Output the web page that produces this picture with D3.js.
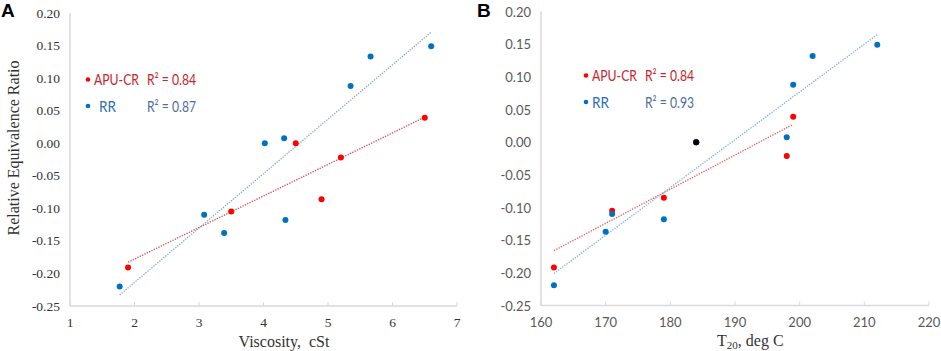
<!DOCTYPE html>
<html lang="en">
<head>
  <meta charset="utf-8">
  <title>Relative equivalence ratio vs viscosity and T20</title>
  <script src="https://cdn.jsdelivr.net/npm/d3@7"></script>
  <style>
    body { margin: 0; background: #fff; }
    svg text { white-space: pre; }
    .serif { font-family: "Liberation Serif", "DejaVu Serif", serif; }
    .sans { font-family: Lato, "Liberation Sans", sans-serif; }
  </style>
</head>
<body>
<script>
  // Panel A: viscosity (cSt) vs relative equivalence ratio
  const apuViscosity = [1.9, 3.5, 4.9, 4.5, 5.2, 6.5];
  const apuRatioA = [-0.191, -0.105, -0.086, 0.0, -0.022, 0.039];
  const rrViscosity = [1.77, 3.08, 3.39, 4.34, 4.02, 4.32, 5.35, 5.66, 6.6];
  const rrRatioA = [-0.220, -0.110, -0.138, -0.118, 0.0, 0.0075, 0.088, 0.133, 0.149];

  // Panel B: T20 (deg C) vs relative equivalence ratio
  const apuT20 = [162, 171, 179, 198, 199, 184];
  const apuRatioB = [-0.192, -0.105, -0.085, -0.021, 0.039, 0.0];
  const rrT20 = [162, 170, 171, 179, 198, 199, 202, 212, 184];
  const rrRatioB = [-0.219, -0.137, -0.110, -0.118, 0.0076, 0.088, 0.132, 0.149, 0.0];
  // the shared point is shown in black
  const sharedT20 = [184];
  const sharedRatioB = [0.0];

  const yTicks = [0.20, 0.15, 0.10, 0.05, 0.00, -0.05, -0.10, -0.15, -0.20, -0.25];
  const viscTicks = [1, 2, 3, 4, 5, 6, 7];
  const t20Ticks = [160, 170, 180, 190, 200, 210, 220];

  const r2A = ["0.84", "0.87"];
  const r2B = ["0.84", "0.93"];

  const red = "#ff0000", blue = "#0070c0";
  const axisColor = "#d9d9d9";

  const svg = d3.select("body").append("svg")
    .attr("width", 941)
    .attr("height", 351);

  // simple least squares fit, like an Excel linear trendline
  function fit(xs, ys) {
    const mx = d3.mean(xs), my = d3.mean(ys);
    const sxy = d3.sum(xs, (x, i) => (x - mx) * (ys[i] - my));
    const sxx = d3.sum(xs, x => (x - mx) * (x - mx));
    const b = sxy / sxx;
    return x => my + b * (x - mx);
  }

  function panel(p) {
    const g = svg.append("g");
    const x = d3.scaleLinear().domain(p.xDomain).range(p.xRange);
    const y = d3.scaleLinear().domain([-0.25, 0.20]).range(p.yRange);

    // axis lines
    g.append("line")
      .attr("x1", x(p.xDomain[0])).attr("x2", x(p.xDomain[0]))
      .attr("y1", y(0.20)).attr("y2", y(-0.25))
      .attr("stroke", axisColor).attr("stroke-width", 1.5);
    g.append("line")
      .attr("x1", x(p.xDomain[0])).attr("x2", x(p.xDomain[1]))
      .attr("y1", y(-0.25)).attr("y2", y(-0.25))
      .attr("stroke", axisColor).attr("stroke-width", 1.5);

    // x ticks and labels
    g.selectAll(".xt").data(p.xTicks).enter().append("line")
      .attr("x1", d => x(d)).attr("x2", d => x(d))
      .attr("y1", y(-0.25)).attr("y2", y(-0.25) - 4)
      .attr("stroke", axisColor);
    g.selectAll(".xl").data(p.xTicks).enter().append("text")
      .attr("class", p.tickFont)
      .attr("x", d => x(d))
      .attr("y", y(-0.25) + 16)
      .attr("text-anchor", "middle")
      .attr("dominant-baseline", "central")
      .attr("font-size", p.tickSize)
      .attr("fill", p.tickColor)
      .text(d => d);

    // y labels
    g.selectAll(".yl").data(yTicks).enter().append("text")
      .attr("class", p.tickFont)
      .attr("x", x(p.xDomain[0]) - 10)
      .attr("y", d => y(d))
      .attr("text-anchor", "end")
      .attr("dominant-baseline", "central")
      .attr("font-size", p.tickSize)
      .attr("fill", p.tickColor)
      .text(d => d.toFixed(2));

    // trendlines
    p.series.forEach(s => {
      const f = fit(s.xs, s.ys);
      const ext = d3.extent(s.xs);
      g.append("line")
        .attr("x1", x(ext[0])).attr("y1", y(f(ext[0])))
        .attr("x2", x(ext[1])).attr("y2", y(f(ext[1])))
        .attr("stroke", s.trend)
        .attr("stroke-width", 1.3)
        .attr("stroke-dasharray", "1.3,1.3");
    });

    // points
    p.series.concat(p.extra || []).forEach(s => {
      g.selectAll(null).data(s.xs).enter().append("circle")
        .attr("cx", d => x(d))
        .attr("cy", (d, i) => y(s.ys[i]))
        .attr("r", 3)
        .attr("fill", s.color);
    });

    // legend (Calibri is narrower than Lato, so squeeze to the original widths)
    const lg = svg.append("g").attr("class", "sans").attr("font-size", 14.5);
    const rows = [
      { name: "APU-CR", w: 45, dot: red, nameColor: "#c8262b", r2: p.r2[0], r2Color: "#c8262b", nx: 0 },
      { name: "RR", w: 17, dot: blue, nameColor: "#2f6eb2", r2: p.r2[1], r2Color: "#4d6f9e", nx: p.rrShift }
    ];
    rows.forEach((r, i) => {
      const ly = p.legendY + i * 26.5;
      lg.append("circle").attr("cx", p.legendX).attr("cy", ly).attr("r", 2.3).attr("fill", r.dot);
      lg.append("text").attr("x", p.legendX + 6 + r.nx).attr("y", ly)
        .attr("dominant-baseline", "central").attr("fill", r.nameColor)
        .attr("textLength", r.w).attr("lengthAdjust", "spacingAndGlyphs")
        .text(r.name);
      lg.append("text").attr("x", p.legendX + 59).attr("y", ly)
        .attr("dominant-baseline", "central").attr("fill", r.r2Color)
        .attr("textLength", 49).attr("lengthAdjust", "spacingAndGlyphs")
        .text("R\u00b2 = " + r.r2);
    });
  }

  panel({
    xDomain: [1, 7], xRange: [70, 457], yRange: [306, 13],
    xTicks: viscTicks, tickFont: "serif", tickSize: 13.5, tickColor: "#333",
    series: [
      { xs: apuViscosity, ys: apuRatioA, color: red, trend: "#d0484b" },
      { xs: rrViscosity, ys: rrRatioA, color: blue, trend: "#7eaacb" }
    ],
    r2: r2A, legendX: 88, legendY: 79.5, rrShift: 5
  });

  panel({
    xDomain: [160, 220], xRange: [541, 929], yRange: [305.5, 11.5],
    xTicks: t20Ticks, tickFont: "sans", tickSize: 13, tickColor: "#595959",
    series: [
      { xs: apuT20, ys: apuRatioB, color: red, trend: "#e25a5a" },
      { xs: rrT20, ys: rrRatioB, color: blue, trend: "#79b0dc" }
    ],
    extra: [{ xs: sharedT20, ys: sharedRatioB, color: "#000" }],
    r2: r2B, legendX: 586, legendY: 75.5, rrShift: 0
  });

  // axis titles
  svg.append("text").attr("class", "serif")
    .attr("transform", "translate(13,148) rotate(-90)")
    .attr("text-anchor", "middle").attr("dominant-baseline", "central")
    .attr("font-size", 16).attr("fill", "#333")
    .text("Relative Equivalence Ratio");

  svg.append("text").attr("class", "serif")
    .attr("x", 284).attr("y", 341)
    .attr("text-anchor", "middle").attr("dominant-baseline", "central")
    .attr("font-size", 16).attr("fill", "#333")
    .text("Viscosity,  cSt");

  const tt = svg.append("text").attr("class", "serif")
    .attr("x", 717).attr("y", 346)
    .attr("font-size", 16).attr("fill", "#333");
  tt.append("tspan").text("T");
  tt.append("tspan").attr("font-size", 11).attr("dy", 3).text("20");
  tt.append("tspan").attr("dy", -3).text(", deg C");

  // panel letters
  svg.append("text").attr("x", 1).attr("y", 17)
    .attr("font-family", "Liberation Sans, Arial, sans-serif")
    .attr("font-weight", "bold").attr("font-size", 19).text("A");
  svg.append("text").attr("x", 477).attr("y", 17)
    .attr("font-family", "Liberation Sans, Arial, sans-serif")
    .attr("font-weight", "bold").attr("font-size", 19).text("B");
</script>
</body>
</html>
